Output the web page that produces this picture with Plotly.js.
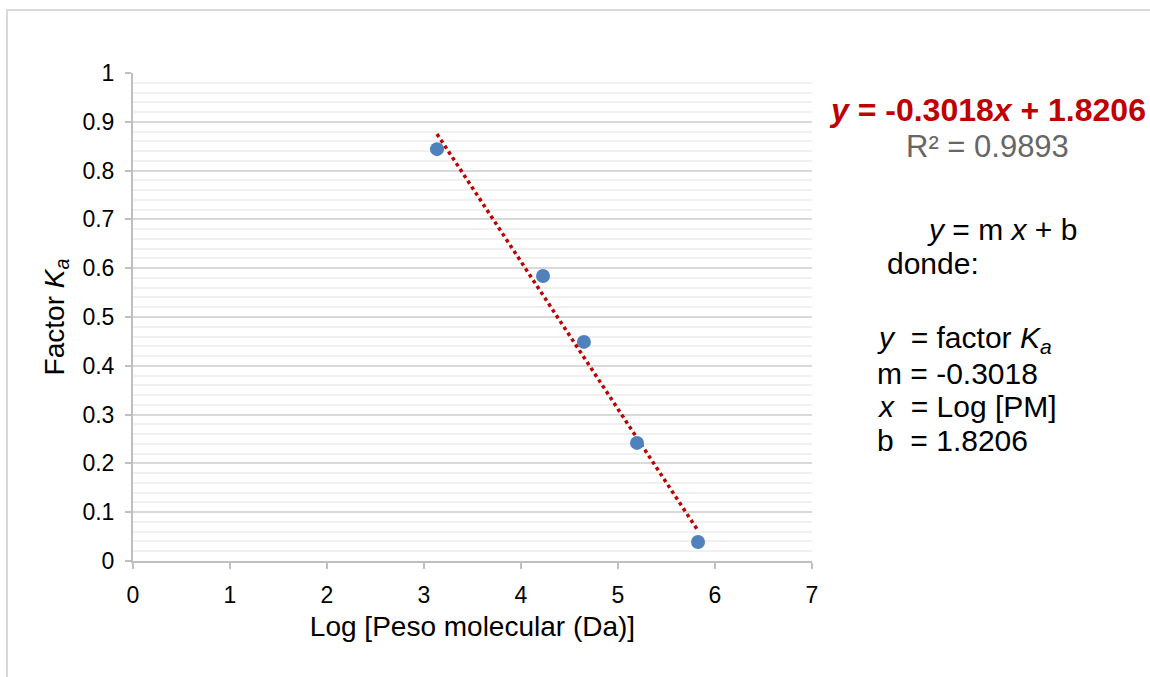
<!DOCTYPE html>
<html><head><meta charset="utf-8">
<script src="https://cdn.plot.ly/plotly-3.0.1.min.js"></script>
<style>
html,body{margin:0;padding:0;background:#fff;}
#frame{position:absolute;left:6px;top:9px;width:1150px;height:680px;border:2px solid #d9d9d9;box-sizing:border-box;}
#chart{position:absolute;left:0;top:0;width:1150px;height:677px;}
</style></head>
<body>
<div id="frame"></div>
<div id="chart"></div>
<script>
const logPM = [3.134, 4.227, 4.649, 5.196, 5.825];
const factorKa = [0.844, 0.584, 0.449, 0.242, 0.039];
const trendX = [3.134, 5.825];
const trendY = [0.875, 0.062];
const xTicks = [0, 1, 2, 3, 4, 5, 6, 7];
const yTicks = [0, 0.1, 0.2, 0.3, 0.4, 0.5, 0.6, 0.7, 0.8, 0.9, 1];
const yTickText = ['0', '0.1', '0.2', '0.3', '0.4', '0.5', '0.6', '0.7', '0.8', '0.9', '1'];

const F = 'Liberation Sans, Arial, sans-serif';
const L = 133, R = 812, T = 73, B = 561;
function px(x){return (x-L)/(R-L);}
function py(y){return (B-y)/(B-T);}

const notes = [
  {x: px(987), y: py(110), xanchor:'center', text:'<b><i>y</i> = -0.3018<i>x</i> + 1.8206</b>', font:{family:F,size:32,color:'#C00000'}},
  {x: px(987), y: py(146), xanchor:'center', text:'R² = 0.9893', font:{family:F,size:31,color:'#666666'}},
  {x: px(925), y: py(229), xanchor:'left', text:'<i>y</i> = m <i>x</i> + b', font:{family:F,size:30,color:'#000'}},
  {x: px(885), y: py(263), xanchor:'left', text:'donde:', font:{family:F,size:30,color:'#000'}},
  {x: px(875), y: py(339), xanchor:'left', text:'<i>y</i>  = factor <i>K<sub>a</sub></i>', font:{family:F,size:30,color:'#000'}},
  {x: px(875), y: py(373), xanchor:'left', text:'m = -0.3018', font:{family:F,size:30,color:'#000'}},
  {x: px(875), y: py(407), xanchor:'left', text:'<i>x</i>  = Log [PM]', font:{family:F,size:30,color:'#000'}},
  {x: px(875), y: py(440), xanchor:'left', text:'b  = 1.8206', font:{family:F,size:30,color:'#000'}}
].map(a => Object.assign({xref:'paper', yref:'paper', yanchor:'middle', showarrow:false}, a));

const data = [
  {x: trendX, y: trendY, mode:'lines', type:'scatter',
   line:{color:'#C00000', width:3.5, dash:'dot'}, hoverinfo:'skip'},
  {x: logPM, y: factorKa, mode:'markers', type:'scatter',
   marker:{color:'#4F81BD', size:14}}
];

const layout = {
  width:1150, height:677,
  margin:{l:L, r:1150-R, t:T, b:677-B},
  paper_bgcolor:'rgba(0,0,0,0)', plot_bgcolor:'#fff',
  showlegend:false,
  font:{family:F, color:'#000'},
  xaxis:{range:[0,7], tickvals:xTicks, ticktext:xTicks.map(String), showgrid:false, zeroline:false,
    showline:true, linecolor:'#bfbfbf', linewidth:2, ticks:'outside', ticklen:6, tickcolor:'#bfbfbf', tickwidth:2,
    ticklabelstandoff:6,
    tickfont:{family:F, size:23, color:'#000'},
    title:{text:'Log [Peso molecular (Da)]', font:{family:F, size:28, color:'#000'}, standoff:10}},
  yaxis:{range:[0,1], tickvals:yTicks, ticktext:yTickText, showgrid:true, gridcolor:'#d9d9d9', gridwidth:2, zeroline:false,
    showline:true, linecolor:'#bfbfbf', linewidth:2, ticks:'outside', ticklen:6, tickcolor:'#bfbfbf', tickwidth:2,
    ticklabelstandoff:6,
    tickfont:{family:F, size:23, color:'#000'},
    minor:{dtick:0.02, showgrid:true, gridcolor:'#f0f0f0', gridwidth:2, ticks:''},
    title:{text:'Factor <i>K<sub>a</sub></i>', font:{family:F, size:28, color:'#000'}, standoff:10}},
  annotations: notes
};

Plotly.newPlot('chart', data, layout, {displayModeBar:false, staticPlot:true});
</script>
</body></html>
